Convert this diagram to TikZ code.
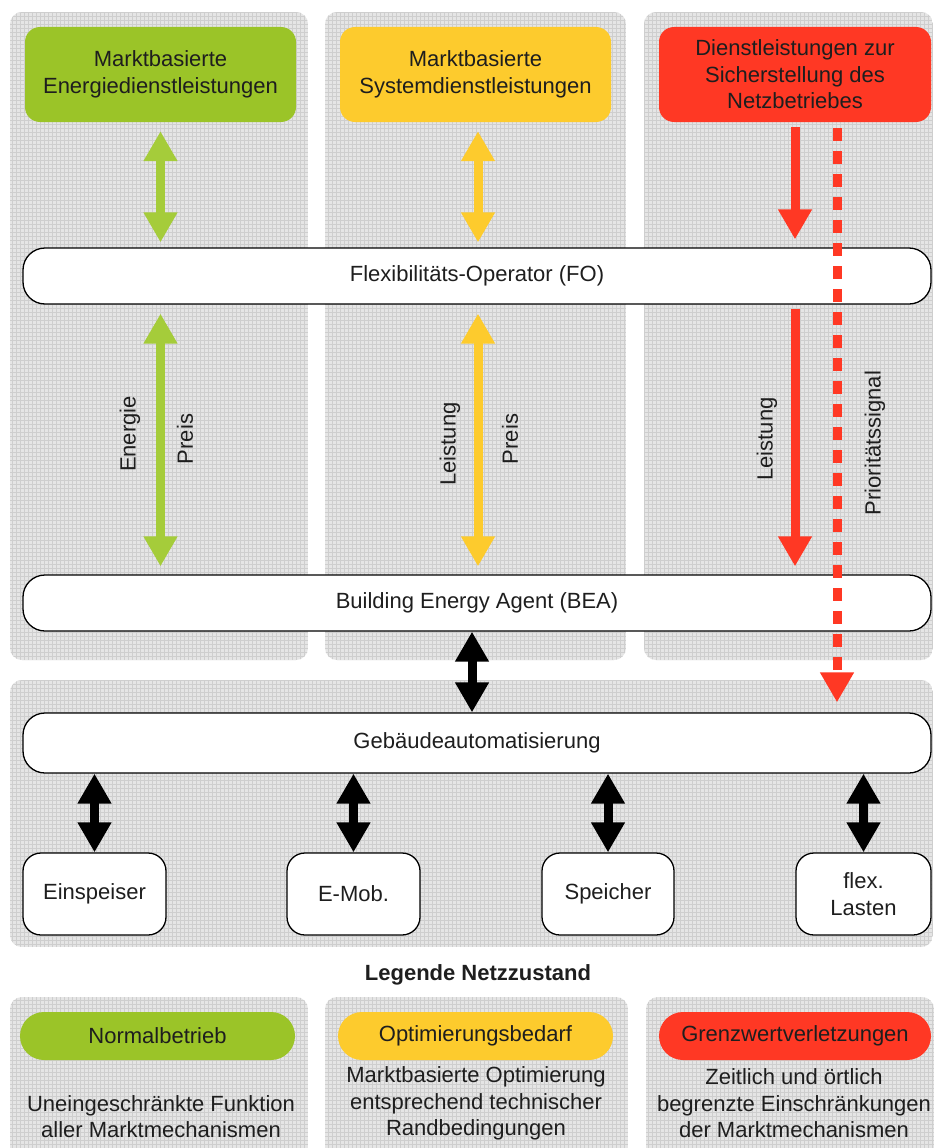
\documentclass[tikz,border=0pt]{standalone}
\usepackage{fontspec}
\setmainfont{Liberation Sans}
\usetikzlibrary{arrows.meta}
\definecolor{cgreen}{RGB}{155,196,40}
\definecolor{cagreen}{RGB}{165,204,58}
\definecolor{cyellow}{RGB}{253,203,45}
\definecolor{cred}{RGB}{255,56,36}
\definecolor{panelbg}{RGB}{229,229,229}
\definecolor{panelgrid}{RGB}{206,206,206}
\definecolor{ink}{RGB}{30,30,30}

\tikzset{
 txt/.style={font=\fontsize{22}{26.5}\selectfont, text=ink},
 hbox/.style={txt, rounded corners=15pt, minimum height=95pt, align=center, inner sep=0pt},
 bar/.style={txt, draw=black, line width=1.3pt, fill=white, rounded corners=22pt, minimum width=908pt, minimum height=56pt, inner sep=0pt},
 dev/.style={txt, draw=black, line width=1.3pt, fill=white, rounded corners=18pt, minimum height=82pt, align=center, inner sep=0pt},
 pill/.style={txt, rounded corners=24pt, minimum width=275pt, minimum height=48pt, inner sep=0pt},
 fat/.style={line width=9pt, {Triangle[width=32pt,length=30pt]}-{Triangle[width=32pt,length=30pt]}},
 fatdown/.style={line width=9pt, -{Triangle[width=32pt,length=30pt]}},
 vlabel/.style={txt, rotate=90, inner sep=0pt},
}

\newcommand{\gpanel}[4]{%
 \begin{scope}
 \clip[rounded corners=12pt] (#1,#2) rectangle (#3,#4);
 \fill[panelbg] (#1,#2) rectangle (#3,#4);
 \draw[panelgrid, line width=0.6pt, step=4pt] (#1,#2) grid (#3,#4);
 \end{scope}}

\begin{document}
\begin{tikzpicture}[x=1pt,y=-1pt]
\useasboundingbox (0,0) rectangle (936,1148);
\clip (0,0) rectangle (936,1148);
\fill[white] (0,0) rectangle (936,1148);

% background panels
\gpanel{10}{12}{308}{660}
\gpanel{325}{12}{626}{660}
\gpanel{644}{12}{933}{660}
\gpanel{10}{680}{933}{947}
\gpanel{10}{997}{308}{1170}
\gpanel{325}{997}{628}{1170}
\gpanel{646}{997}{934}{1170}

% header boxes
\node[hbox, fill=cgreen, minimum width=271pt] (mes) at (160.5,74.5) {Marktbasierte\\Energiedienstleistungen};
\node[hbox, fill=cyellow, minimum width=271pt] (msd) at (475.5,74.5) {Marktbasierte\\Systemdienstleistungen};
\node[hbox, fill=cred, minimum width=272pt] (dsn) at (795,74.5) {Dienstleistungen zur\\Sicherstellung des\\Netzbetriebes};

% bars
\node[bar] (fo) at (477,276) {Flexibilitäts-Operator (FO)};
\node[bar] (bea) at (477,603) {Building Energy Agent (BEA)};
\node[bar, minimum height=60pt] (ga) at (477,743) {Gebäudeautomatisierung};

% devices
\node[dev, minimum width=143pt] (ein) at (94.5,894) {Einspeiser};
\node[dev, minimum width=133pt] (emob) at (353.5,894) {E-Mob.};
\node[dev, minimum width=132pt] (spei) at (608,894) {Speicher};
\node[dev, minimum width=135pt] (flex) at (863.5,894) {flex.\\Lasten};

% helper x positions
\coordinate (yx) at (478,0);
\coordinate (dx) at (837,0);
\coordinate (bx) at (472,0);

% green arrows
\draw[fat, cagreen, shorten <=9pt, shorten >=5pt] (mes.south) -- (fo.north -| mes.south);
\draw[fat, cagreen, shorten <=9pt, shorten >=8pt] (fo.south -| mes.south) -- (bea.north -| mes.south);
% yellow arrows
\draw[fat, cyellow, shorten <=9pt, shorten >=5pt] (msd.south -| yx) -- (fo.north -| yx);
\draw[fat, cyellow, shorten <=9pt, shorten >=8pt] (fo.south -| yx) -- (bea.north -| yx);
% red arrows
\draw[fatdown, cred, shorten <=5pt, shorten >=8pt] (dsn.south) -- (fo.north -| dsn.south);
\draw[fatdown, cred, shorten <=4pt, shorten >=8pt] (fo.south -| dsn.south) -- (bea.north -| dsn.south);
% dashed priority signal
\draw[cred, line width=9pt, dash pattern=on 13pt off 10pt, -{Triangle[width=32pt,length=30pt]}, shorten <=6pt, shorten >=10pt] (dsn.south -| dx) -- (ga.north -| dx);

% black arrows
\draw[fat, black] (bea.south -| bx) -- (ga.north -| bx);
\draw[fat, black] (ga.south -| ein.north) -- (ein.north);
\draw[fat, black] (ga.south -| emob.north) -- (emob.north);
\draw[fat, black] (ga.south -| spei.north) -- (spei.north);
\draw[fat, black] (ga.south -| flex.north) -- (flex.north);

% arrow labels
\node[vlabel] (lenergie) at (130,434) {Energie};
\node[vlabel] (lpreis1) at (185,439) {Preis};
\node[vlabel] (lleist1) at (450,444) {Leistung};
\node[vlabel] (lpreis2) at (510,439) {Preis};
\node[vlabel] (lleist2) at (767,439) {Leistung};
\node[vlabel] (lprio) at (875,443) {Prioritätssignal};

% legend
\node[txt, font=\fontsize{22}{26.5}\selectfont\bfseries] (leg) at (478,975) {Legende Netzzustand};
\node[pill, fill=cgreen] (pn) at (157.5,1036) {Normalbetrieb};
\node[pill, fill=cyellow] (po) at (475.5,1036) {Optimierungsbedarf};
\node[pill, fill=cred, minimum width=272pt] (pg) at (795,1036) {Grenzwertverletzungen};
\node[txt, align=center] (tn) at (161,1116.5) {Uneingeschränkte Funktion\\aller Marktmechanismen};
\node[txt, align=center] (to) at (476,1103.5) {Marktbasierte Optimierung\\entsprechend technischer\\Randbedingungen};
\node[txt, align=center] (tg) at (794,1103.5) {Zeitlich und örtlich\\begrenzte Einschränkungen\\der Marktmechanismen};
\end{tikzpicture}
\end{document}
